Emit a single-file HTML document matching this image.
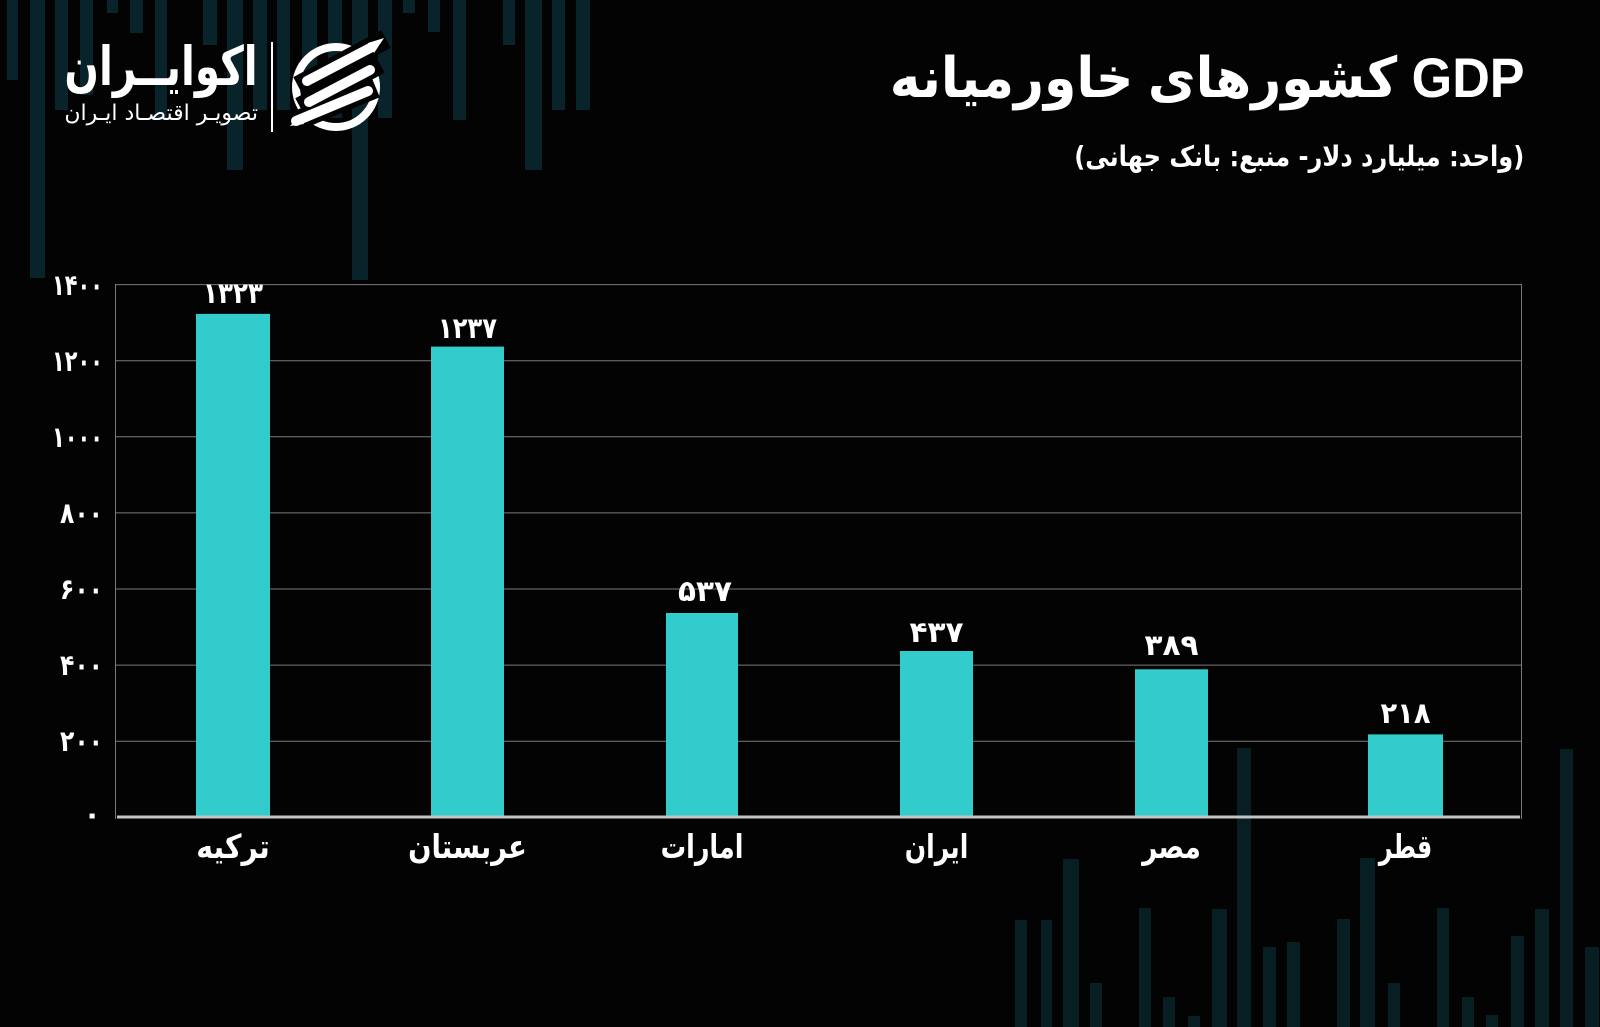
<!DOCTYPE html>
<html>
<head>
<meta charset="utf-8">
<style>
  html,body{margin:0;padding:0;}
  body{width:1600px;height:1027px;background:#030303;position:relative;overflow:hidden;}
  svg{position:absolute;left:0;top:0;}
  .t{position:absolute;white-space:nowrap;color:#fff;direction:rtl;line-height:1;transform-origin:100% 50%;}
</style>
</head>
<body>
<svg width="1600" height="1027" viewBox="0 0 1600 1027" xmlns="http://www.w3.org/2000/svg">
  <rect x="0" y="0" width="1600" height="1027" fill="#030303"/>
  <!-- decorative top bars -->
  <g fill="#09232a">
    <rect x="7" y="0" width="11" height="80"/>
    <rect x="30" y="0" width="15" height="278"/>
    <rect x="55" y="0" width="13" height="110"/>
    <rect x="80" y="0" width="13" height="95"/>
    <rect x="107" y="0" width="11" height="13"/>
    <rect x="130" y="0" width="13" height="33"/>
    <rect x="155" y="0" width="12" height="120"/>
    <rect x="203" y="0" width="14" height="45"/>
    <rect x="227" y="0" width="16" height="170"/>
    <rect x="253" y="0" width="14" height="110"/>
    <rect x="277" y="0" width="13" height="110"/>
    <rect x="302" y="0" width="15" height="120"/>
    <rect x="328" y="0" width="14" height="118"/>
    <rect x="352" y="0" width="16" height="280"/>
    <rect x="378" y="0" width="14" height="118"/>
    <rect x="403" y="0" width="12" height="13"/>
    <rect x="428" y="0" width="12" height="32"/>
    <rect x="453" y="0" width="13" height="120"/>
    <rect x="503" y="0" width="12" height="45"/>
    <rect x="525" y="0" width="17" height="170"/>
    <rect x="552" y="0" width="13" height="110"/>
    <rect x="576" y="0" width="14" height="110"/>
  </g>
  <!-- decorative bottom bars -->
  <g fill="#071e23">
    <rect x="1015" y="920" width="12" height="107"/>
    <rect x="1041" y="920" width="11" height="107"/>
    <rect x="1063" y="859" width="16" height="168"/>
    <rect x="1090" y="983" width="12" height="44"/>
    <rect x="1139" y="908" width="12" height="119"/>
    <rect x="1163" y="997" width="12" height="30"/>
    <rect x="1188" y="1016" width="12" height="11"/>
    <rect x="1212" y="909" width="15" height="118"/>
    <rect x="1237" y="748" width="14" height="279"/>
    <rect x="1263" y="947" width="13" height="80"/>
    <rect x="1287" y="942" width="13" height="85"/>
    <rect x="1337" y="919" width="13" height="108"/>
    <rect x="1360" y="858" width="15" height="169"/>
    <rect x="1388" y="983" width="12" height="44"/>
    <rect x="1437" y="908" width="12" height="119"/>
    <rect x="1462" y="997" width="12" height="30"/>
    <rect x="1486" y="1015" width="12" height="12"/>
    <rect x="1511" y="936" width="13" height="91"/>
    <rect x="1535" y="909" width="14" height="118"/>
    <rect x="1560" y="749" width="13" height="278"/>
    <rect x="1585" y="947" width="14" height="80"/>
  </g>

  <!-- logo icon -->
  <g>
    <circle cx="336" cy="87" r="40" fill="none" stroke="#ffffff" stroke-width="8"/>
    <g stroke="#030303" stroke-width="20" stroke-linecap="butt">
      <line x1="298" y1="86" x2="386" y2="39"/>
      <line x1="300" y1="107" x2="380" y2="64"/>
      <line x1="284" y1="126" x2="376" y2="88"/>
    </g>
    <g stroke="#ffffff" stroke-width="10" stroke-linecap="round">
      <line x1="307" y1="81" x2="372" y2="47"/>
      <line x1="309" y1="102" x2="370" y2="70"/>
      <line x1="296" y1="121" x2="368" y2="91"/>
    </g>
    <g fill="#ffffff">
      <polygon points="368,43 384,38 374,53"/>
      <polygon points="290,126 300,115 304,124"/>
    </g>
  </g>
  <rect x="271" y="42" width="2" height="90" fill="#ffffff"/>

  <!-- grid -->
  <g stroke="#7a7a7a" stroke-width="1">
    <line x1="115" y1="284.6" x2="1522" y2="284.6"/>
    <line x1="115" y1="360.7" x2="1522" y2="360.7"/>
    <line x1="115" y1="436.8" x2="1522" y2="436.8"/>
    <line x1="115" y1="512.9" x2="1522" y2="512.9"/>
    <line x1="115" y1="589" x2="1522" y2="589"/>
    <line x1="115" y1="665.1" x2="1522" y2="665.1"/>
    <line x1="115" y1="741.2" x2="1522" y2="741.2"/>
    <line x1="115.5" y1="284" x2="115.5" y2="819"/>
    <line x1="1521.5" y1="284" x2="1521.5" y2="819"/>
  </g>

  <!-- bars -->
  <g fill="#33cccc">
    <rect x="196" y="313.9" width="74" height="503.1"/>
    <rect x="431" y="346.6" width="73" height="470.4"/>
    <rect x="666" y="613" width="72" height="204"/>
    <rect x="900" y="651" width="73" height="166"/>
    <rect x="1135" y="669.3" width="73" height="147.7"/>
    <rect x="1368" y="734.4" width="75" height="82.6"/>
  </g>
  <rect x="117" y="815.5" width="1403" height="3" fill="#c4c4c4"/>

  <!-- y tick labels -->
  <g font-family="'DejaVu Sans', sans-serif" font-weight="bold" font-size="29" fill="#ffffff" text-anchor="end">
    <text x="103" y="295" textLength="51" lengthAdjust="spacingAndGlyphs">۱۴۰۰</text>
    <text x="103" y="371" textLength="51" lengthAdjust="spacingAndGlyphs">۱۲۰۰</text>
    <text x="103" y="447" textLength="51" lengthAdjust="spacingAndGlyphs">۱۰۰۰</text>
    <text x="103" y="523" textLength="43" lengthAdjust="spacingAndGlyphs">۸۰۰</text>
    <text x="103" y="599" textLength="43" lengthAdjust="spacingAndGlyphs">۶۰۰</text>
    <text x="103" y="675" textLength="43" lengthAdjust="spacingAndGlyphs">۴۰۰</text>
    <text x="103" y="751" textLength="43" lengthAdjust="spacingAndGlyphs">۲۰۰</text>
    <text x="101" y="824">۰</text>
  </g>

  <!-- value labels -->
  <g font-family="'DejaVu Sans', sans-serif" font-weight="bold" font-size="29" fill="#ffffff" text-anchor="middle">
    <text x="233" y="303" textLength="60" lengthAdjust="spacingAndGlyphs">۱۳۲۳</text>
    <text x="467.5" y="338" textLength="59" lengthAdjust="spacingAndGlyphs">۱۲۳۷</text>
    <text x="705" y="601" textLength="54" lengthAdjust="spacingAndGlyphs">۵۳۷</text>
    <text x="936.5" y="642" textLength="54" lengthAdjust="spacingAndGlyphs">۴۳۷</text>
    <text x="1171.5" y="655" textLength="54" lengthAdjust="spacingAndGlyphs">۳۸۹</text>
    <text x="1405.5" y="723" textLength="50" lengthAdjust="spacingAndGlyphs">۲۱۸</text>
  </g>

  <!-- category labels -->
  <g font-family="'DejaVu Sans', sans-serif" font-weight="bold" font-size="33" fill="#ffffff" text-anchor="middle">
    <text transform="translate(233,858) scale(0.86,1)">ترکیه</text>
    <text transform="translate(467.5,858) scale(0.83,1)">عربستان</text>
    <text transform="translate(702,858) scale(0.77,1)">امارات</text>
    <text transform="translate(936.5,858) scale(0.76,1)">ایران</text>
    <text transform="translate(1171.5,858) scale(0.8,1)">مصر</text>
    <text transform="translate(1405.5,858) scale(0.72,1)">قطر</text>
  </g>
</svg>

<!-- Title -->
<div class="t" style="right:75px;top:50px;font-family:'Liberation Sans','DejaVu Sans',sans-serif;font-weight:bold;font-size:56px;transform:scaleX(0.93);">GDP کشورهای خاورمیانه</div>
<!-- Subtitle -->
<div class="t" style="right:76px;top:143px;font-family:'DejaVu Sans',sans-serif;font-weight:bold;font-size:28px;transform:scaleX(0.86);">(واحد: میلیارد دلار- منبع: بانک جهانی)</div>

<!-- Logo text -->
<div class="t" style="right:1342px;top:40px;font-family:'DejaVu Sans',sans-serif;font-weight:bold;font-size:54px;transform:scaleX(0.75);">اکوایــران</div>
<div class="t" style="right:1342px;top:103px;font-family:'DejaVu Sans',sans-serif;font-size:22px;transform:scaleX(1.0);">تصویـر اقتصـاد ایـران</div>
</body>
</html>
